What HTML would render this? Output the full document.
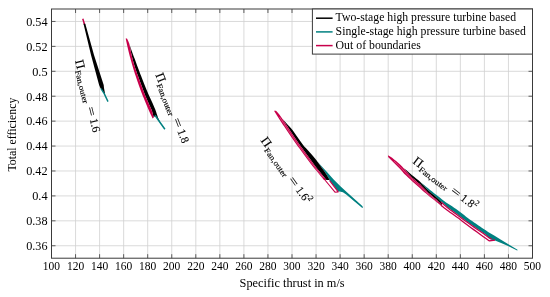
<!DOCTYPE html>
<html><head><meta charset="utf-8"><style>
html,body{margin:0;padding:0;background:#fff;}
svg{display:block;will-change:transform;filter:blur(0.25px);}
svg{font-family:"Liberation Serif",serif;font-size:11.5px;}
text{fill:#000;}
</style></head><body>
<svg width="550" height="297" viewBox="0 0 550 297">
<line x1="75.55" y1="9.0" x2="75.55" y2="258.2" stroke="#d0d0d0" stroke-width="0.8"/>
<line x1="99.60" y1="9.0" x2="99.60" y2="258.2" stroke="#d0d0d0" stroke-width="0.8"/>
<line x1="123.65" y1="9.0" x2="123.65" y2="258.2" stroke="#d0d0d0" stroke-width="0.8"/>
<line x1="147.70" y1="9.0" x2="147.70" y2="258.2" stroke="#d0d0d0" stroke-width="0.8"/>
<line x1="171.75" y1="9.0" x2="171.75" y2="258.2" stroke="#d0d0d0" stroke-width="0.8"/>
<line x1="195.80" y1="9.0" x2="195.80" y2="258.2" stroke="#d0d0d0" stroke-width="0.8"/>
<line x1="219.85" y1="9.0" x2="219.85" y2="258.2" stroke="#d0d0d0" stroke-width="0.8"/>
<line x1="243.90" y1="9.0" x2="243.90" y2="258.2" stroke="#d0d0d0" stroke-width="0.8"/>
<line x1="267.95" y1="9.0" x2="267.95" y2="258.2" stroke="#d0d0d0" stroke-width="0.8"/>
<line x1="292.00" y1="9.0" x2="292.00" y2="258.2" stroke="#d0d0d0" stroke-width="0.8"/>
<line x1="316.05" y1="9.0" x2="316.05" y2="258.2" stroke="#d0d0d0" stroke-width="0.8"/>
<line x1="340.10" y1="9.0" x2="340.10" y2="258.2" stroke="#d0d0d0" stroke-width="0.8"/>
<line x1="364.15" y1="9.0" x2="364.15" y2="258.2" stroke="#d0d0d0" stroke-width="0.8"/>
<line x1="388.20" y1="9.0" x2="388.20" y2="258.2" stroke="#d0d0d0" stroke-width="0.8"/>
<line x1="412.25" y1="9.0" x2="412.25" y2="258.2" stroke="#d0d0d0" stroke-width="0.8"/>
<line x1="436.30" y1="9.0" x2="436.30" y2="258.2" stroke="#d0d0d0" stroke-width="0.8"/>
<line x1="460.35" y1="9.0" x2="460.35" y2="258.2" stroke="#d0d0d0" stroke-width="0.8"/>
<line x1="484.40" y1="9.0" x2="484.40" y2="258.2" stroke="#d0d0d0" stroke-width="0.8"/>
<line x1="508.45" y1="9.0" x2="508.45" y2="258.2" stroke="#d0d0d0" stroke-width="0.8"/>
<line x1="51.5" y1="245.74" x2="532.5" y2="245.74" stroke="#d0d0d0" stroke-width="0.8"/>
<line x1="51.5" y1="220.82" x2="532.5" y2="220.82" stroke="#d0d0d0" stroke-width="0.8"/>
<line x1="51.5" y1="195.90" x2="532.5" y2="195.90" stroke="#d0d0d0" stroke-width="0.8"/>
<line x1="51.5" y1="170.98" x2="532.5" y2="170.98" stroke="#d0d0d0" stroke-width="0.8"/>
<line x1="51.5" y1="146.06" x2="532.5" y2="146.06" stroke="#d0d0d0" stroke-width="0.8"/>
<line x1="51.5" y1="121.14" x2="532.5" y2="121.14" stroke="#d0d0d0" stroke-width="0.8"/>
<line x1="51.5" y1="96.22" x2="532.5" y2="96.22" stroke="#d0d0d0" stroke-width="0.8"/>
<line x1="51.5" y1="71.30" x2="532.5" y2="71.30" stroke="#d0d0d0" stroke-width="0.8"/>
<line x1="51.5" y1="46.38" x2="532.5" y2="46.38" stroke="#d0d0d0" stroke-width="0.8"/>
<line x1="51.5" y1="21.46" x2="532.5" y2="21.46" stroke="#d0d0d0" stroke-width="0.8"/>
<polyline points="82.80,18.80 84.60,24.80" fill="none" stroke="#c8004b" stroke-width="1.5" stroke-linejoin="round" stroke-linecap="butt"/>
<polygon points="83.50,23.80 85.30,23.80 94.00,55.00 103.70,85.00 104.00,88.00 105.20,94.50 101.00,88.80 100.60,88.50 99.10,85.00 91.00,55.00" fill="#000"/>
<polyline points="101.00,88.60 104.20,93.60 108.00,101.60" fill="none" stroke="#008080" stroke-width="1.4" stroke-linejoin="round" stroke-linecap="butt"/>
<polygon points="126.99,38.60 127.98,40.58 128.85,42.55 129.36,44.53 129.89,46.50 130.28,48.48 130.63,50.45 131.02,52.43 131.47,54.40 131.93,56.38 132.41,58.35 132.90,60.33 133.45,62.30 134.03,64.28 134.66,66.25 135.30,68.22 135.96,70.20 136.63,72.18 137.32,74.15 138.02,76.12 138.73,78.10 139.45,80.08 140.19,82.05 140.94,84.03 141.68,86.00 142.40,87.97 143.13,89.95 143.88,91.93 144.64,93.90 145.41,95.88 146.23,97.85 147.08,99.83 147.95,101.80 148.82,103.78 149.72,105.75 150.63,107.72 151.55,109.70 152.22,111.68 152.72,113.65 153.23,115.62 153.75,117.60 155.20,115.80 160.60,123.20 157.95,117.60 157.32,115.62 156.69,113.65 156.08,111.68 155.37,109.70 154.51,107.72 153.66,105.75 152.81,103.78 151.89,101.80 150.98,99.83 150.07,97.85 149.19,95.88 148.33,93.90 147.48,91.93 146.64,89.95 145.82,87.97 145.01,86.00 144.21,84.03 143.42,82.05 142.64,80.08 141.87,78.10 141.12,76.12 140.38,74.15 139.65,72.18 138.91,70.20 138.14,68.22 137.38,66.25 136.64,64.28 135.93,62.30 135.23,60.33 134.48,58.35 133.73,56.38 133.00,54.40 132.28,52.43 131.56,50.45 130.84,48.48 130.16,46.50 129.51,44.53 128.88,42.55 127.98,40.58 126.99,38.60" fill="#000"/>
<polygon points="125.69,38.60 126.10,40.58 126.53,42.55 126.96,44.53 127.41,46.50 127.87,48.48 128.34,50.45 128.83,52.43 129.33,54.40 129.84,56.38 130.36,58.35 130.90,60.33 131.45,62.30 132.02,64.28 132.60,66.25 133.19,68.22 133.79,70.20 134.40,72.18 135.03,74.15 135.68,76.12 136.33,78.10 137.00,80.08 137.68,82.05 138.37,84.03 139.08,86.00 139.80,87.97 140.53,89.95 141.28,91.93 142.04,93.90 142.81,95.88 143.59,97.85 144.39,99.83 145.20,101.80 146.03,103.78 146.86,105.75 147.71,107.72 148.57,109.70 149.45,111.68 150.34,113.65 151.24,115.62 152.15,117.60 152.60,118.60 153.75,117.60 153.75,117.60 153.23,115.62 152.72,113.65 152.22,111.68 151.55,109.70 150.63,107.72 149.72,105.75 148.82,103.78 147.95,101.80 147.08,99.83 146.23,97.85 145.41,95.88 144.64,93.90 143.88,91.93 143.13,89.95 142.40,87.97 141.68,86.00 140.94,84.03 140.19,82.05 139.45,80.08 138.73,78.10 138.02,76.12 137.32,74.15 136.63,72.18 135.96,70.20 135.30,68.22 134.66,66.25 134.03,64.28 133.45,62.30 132.90,60.33 132.41,58.35 131.93,56.38 131.47,54.40 131.02,52.43 130.63,50.45 130.28,48.48 129.89,46.50 129.36,44.53 128.85,42.55 127.98,40.58 126.99,38.60" fill="#c8004b"/>
<polyline points="155.00,115.30 159.00,121.00 164.90,129.30" fill="none" stroke="#008080" stroke-width="1.5" stroke-linejoin="round" stroke-linecap="butt"/>
<polygon points="317.38,161.50 321.60,166.30 327.20,172.30 333.40,179.30 340.40,186.20 347.20,192.60 354.50,199.00 362.30,206.10 363.00,207.20 362.30,207.90 354.50,201.60 346.20,194.60 342.90,192.20 339.70,191.50 338.20,191.60 329.30,180.30 329.64,180.00 328.51,178.02 327.39,176.05 326.16,174.07 324.82,172.09 323.50,170.11 322.11,168.14 320.72,166.16 319.32,164.18 317.89,162.21 317.38,161.50" fill="#008080"/>
<polygon points="276.02,110.80 277.87,112.78 279.55,114.75 280.94,116.73 282.34,118.71 283.75,120.69 285.06,122.66 286.30,124.64 287.53,126.62 288.77,128.59 290.04,130.57 291.36,132.55 292.69,134.53 294.02,136.50 295.37,138.48 296.73,140.46 298.10,142.43 299.48,144.41 300.87,146.39 302.28,148.37 303.70,150.34 305.14,152.32 306.58,154.30 308.03,156.27 309.50,158.25 310.96,160.23 312.39,162.21 313.82,164.18 315.29,166.16 316.80,168.14 318.32,170.11 319.92,172.09 321.53,174.07 323.16,176.05 324.80,178.02 326.44,180.00 329.64,180.00 328.51,178.02 327.39,176.05 326.16,174.07 324.82,172.09 323.50,170.11 322.11,168.14 320.72,166.16 319.32,164.18 317.89,162.21 316.46,160.23 314.82,158.25 313.16,156.27 311.45,154.30 309.65,152.32 307.87,150.34 306.05,148.37 304.25,146.39 302.73,144.41 301.29,142.43 299.86,140.46 298.44,138.48 297.03,136.50 295.63,134.53 294.24,132.55 292.86,130.57 291.21,128.59 289.45,126.62 287.71,124.64 285.97,122.66 284.18,120.69 282.34,118.71 280.94,116.73 279.55,114.75 277.87,112.78 276.02,110.80" fill="#000"/>
<polygon points="274.02,110.80 275.25,112.78 276.50,114.75 277.76,116.73 279.02,118.71 280.30,120.69 281.59,122.66 282.89,124.64 284.20,126.62 285.52,128.59 286.85,130.57 288.19,132.55 289.54,134.53 290.90,136.50 292.28,138.48 293.66,140.46 295.05,142.43 296.46,144.41 297.87,146.39 299.30,148.37 300.73,150.34 302.18,152.32 303.64,154.30 305.11,156.27 306.58,158.25 308.07,160.23 309.57,162.21 311.08,164.18 312.63,166.16 314.22,168.14 315.81,170.11 317.42,172.09 319.03,174.07 320.66,176.05 322.30,178.02 323.94,180.00 326.44,180.00 324.80,178.02 323.16,176.05 321.53,174.07 319.92,172.09 318.32,170.11 316.80,168.14 315.29,166.16 313.82,164.18 312.39,162.21 310.96,160.23 309.50,158.25 308.03,156.27 306.58,154.30 305.14,152.32 303.70,150.34 302.28,148.37 300.87,146.39 299.48,144.41 298.10,142.43 296.73,140.46 295.37,138.48 294.02,136.50 292.69,134.53 291.36,132.55 290.04,130.57 288.77,128.59 287.53,126.62 286.30,124.64 285.06,122.66 283.75,120.69 282.34,118.71 280.94,116.73 279.55,114.75 277.87,112.78 276.02,110.80" fill="#c8004b"/>
<polyline points="279.53,117.00 281.32,119.65 283.09,122.30 284.80,124.96 286.51,127.61 288.24,130.26 290.02,132.91 291.82,135.57 293.64,138.22 295.48,140.87 297.34,143.52 299.22,146.17 301.12,148.83 303.04,151.48 304.99,154.13 306.95,156.78 308.93,159.43 310.89,162.09 312.87,164.74 314.92,167.39 317.01,170.04 319.16,172.70 321.33,175.35 323.53,178.00" fill="none" stroke="#e8a0b8" stroke-width="0.45" stroke-linejoin="round" stroke-linecap="butt"/>
<polyline points="324.53,179.50 335.00,192.20 338.20,191.90 329.60,180.60" fill="none" stroke="#c8004b" stroke-width="1.1" stroke-linejoin="round" stroke-linecap="butt"/>
<polygon points="418.10,180.11 420.10,181.75 422.10,183.41 424.10,185.06 426.10,186.71 428.10,188.34 430.10,189.97 432.10,191.59 434.10,193.17 436.10,194.74 438.10,196.30 440.10,197.85 442.10,199.39 444.10,200.93 446.10,202.44 448.10,203.76 450.10,205.06 452.10,206.36 454.10,207.65 456.10,208.99 458.10,210.39 460.10,211.97 462.10,213.54 464.10,215.10 466.10,216.65 468.10,218.18 470.10,219.71 472.10,221.11 474.10,222.49 476.10,223.87 478.10,225.24 480.10,226.60 482.10,227.94 484.10,229.28 486.10,230.61 488.10,231.92 494.60,235.70 501.00,239.80 508.00,244.00 517.10,249.50 517.70,250.10 517.10,250.60 508.10,246.10 501.10,242.90 495.00,240.50 490.50,239.60 488.10,236.63 486.10,235.12 484.10,233.59 482.10,232.22 480.10,230.85 478.10,229.47 476.10,228.07 474.10,226.69 472.10,225.31 470.10,223.91 468.10,222.38 466.10,220.94 464.10,219.49 462.10,218.03 460.10,216.56 458.10,214.94 456.10,213.49 454.10,212.10 452.10,210.76 450.10,209.23 448.10,207.67 446.10,206.10 444.10,204.34 442.10,202.51 440.10,200.67 438.10,198.81 436.10,196.95 434.10,195.32 432.10,193.69 430.10,192.03 428.10,190.35 426.10,188.23 424.10,186.09 422.10,183.93 420.10,181.77 418.10,180.11" fill="#008080"/>
<polygon points="404.10,168.42 406.10,170.12 408.10,171.81 410.10,173.48 412.10,175.15 414.10,176.81 416.10,178.46 418.10,180.11 420.10,181.77 422.10,183.93 424.10,186.09 426.10,188.23 428.10,190.35 430.10,192.03 432.10,193.69 434.10,195.32 436.10,196.95 438.10,198.81 440.10,200.67 442.00,202.42 442.00,205.22 440.10,203.34 438.10,201.35 436.10,199.36 434.10,197.70 432.10,196.05 430.10,194.35 428.10,192.65 426.10,190.60 424.10,188.53 422.10,186.45 420.10,184.37 418.10,182.68 416.10,181.02 414.10,179.34 412.10,177.65 410.10,175.45 408.10,173.22 406.10,170.98 404.10,168.72" fill="#000"/>
<polygon points="388.10,155.30 390.10,156.51 392.10,157.87 394.10,159.49 396.10,161.11 398.10,162.73 400.10,164.56 402.10,166.49 404.10,168.72 406.10,170.98 408.10,173.22 410.10,175.45 412.10,177.65 414.10,179.34 416.10,181.02 418.10,182.68 420.10,184.37 422.10,186.45 424.10,188.53 426.10,190.60 428.10,192.65 430.10,194.35 432.10,196.05 434.10,197.70 436.10,199.36 438.10,201.35 440.10,203.34 442.00,205.22 442.00,206.58 440.10,204.98 438.10,203.34 436.10,201.68 434.10,200.11 432.10,198.52 430.10,196.89 428.10,195.25 426.10,193.58 424.10,191.91 422.10,190.14 420.10,188.35 418.10,186.58 416.10,184.79 414.10,182.99 412.10,181.16 410.10,179.32 408.10,177.47 406.10,175.59 404.10,173.65 402.10,171.37 400.10,169.09 398.10,166.92 396.10,164.97 394.10,162.97 392.10,160.92 390.10,158.94 388.10,157.00" fill="#c8004b"/>
<polyline points="394.00,161.14 396.00,162.95 398.00,164.74 400.00,166.72 402.00,168.83 404.00,171.08 406.00,173.18 408.00,175.24 410.00,177.29 412.00,179.32 414.00,181.07 416.00,182.82 418.00,184.55 420.00,186.26 422.00,188.20 424.00,190.13 426.00,192.00 428.00,193.86 430.00,195.54 432.00,197.20 434.00,198.82 436.00,200.43 438.00,202.26" fill="none" stroke="#e8a0b8" stroke-width="0.45" stroke-linejoin="round" stroke-linecap="butt"/>
<polyline points="441.00,202.00 444.00,204.75 447.00,207.31 450.00,209.65 453.00,211.87 456.00,213.92 459.00,216.18 462.00,218.46 465.00,220.64 468.00,222.81 471.00,225.04 474.00,227.13 477.00,229.20 480.00,231.28 483.00,233.33 486.00,235.54 489.00,237.81 491.80,239.00" fill="none" stroke="#c8004b" stroke-width="1.25" stroke-linejoin="round" stroke-linecap="butt"/>
<polyline points="441.00,205.14 444.00,207.65 447.00,210.03 450.00,212.18 453.00,214.31 456.00,216.41 459.00,218.59 462.00,220.90 465.00,223.17 468.00,225.42 471.00,227.65 474.00,229.87 477.00,232.07 480.00,234.25 483.00,236.42 486.00,238.58 489.00,240.72 489.50,240.90 495.00,240.00" fill="none" stroke="#c8004b" stroke-width="1.3" stroke-linejoin="round" stroke-linecap="butt"/>
<line x1="75.55" y1="258.2" x2="75.55" y2="254.2" stroke="#3a3a3a" stroke-width="0.8"/>
<line x1="75.55" y1="9.0" x2="75.55" y2="13.0" stroke="#3a3a3a" stroke-width="0.8"/>
<line x1="99.60" y1="258.2" x2="99.60" y2="254.2" stroke="#3a3a3a" stroke-width="0.8"/>
<line x1="99.60" y1="9.0" x2="99.60" y2="13.0" stroke="#3a3a3a" stroke-width="0.8"/>
<line x1="123.65" y1="258.2" x2="123.65" y2="254.2" stroke="#3a3a3a" stroke-width="0.8"/>
<line x1="123.65" y1="9.0" x2="123.65" y2="13.0" stroke="#3a3a3a" stroke-width="0.8"/>
<line x1="147.70" y1="258.2" x2="147.70" y2="254.2" stroke="#3a3a3a" stroke-width="0.8"/>
<line x1="147.70" y1="9.0" x2="147.70" y2="13.0" stroke="#3a3a3a" stroke-width="0.8"/>
<line x1="171.75" y1="258.2" x2="171.75" y2="254.2" stroke="#3a3a3a" stroke-width="0.8"/>
<line x1="171.75" y1="9.0" x2="171.75" y2="13.0" stroke="#3a3a3a" stroke-width="0.8"/>
<line x1="195.80" y1="258.2" x2="195.80" y2="254.2" stroke="#3a3a3a" stroke-width="0.8"/>
<line x1="195.80" y1="9.0" x2="195.80" y2="13.0" stroke="#3a3a3a" stroke-width="0.8"/>
<line x1="219.85" y1="258.2" x2="219.85" y2="254.2" stroke="#3a3a3a" stroke-width="0.8"/>
<line x1="219.85" y1="9.0" x2="219.85" y2="13.0" stroke="#3a3a3a" stroke-width="0.8"/>
<line x1="243.90" y1="258.2" x2="243.90" y2="254.2" stroke="#3a3a3a" stroke-width="0.8"/>
<line x1="243.90" y1="9.0" x2="243.90" y2="13.0" stroke="#3a3a3a" stroke-width="0.8"/>
<line x1="267.95" y1="258.2" x2="267.95" y2="254.2" stroke="#3a3a3a" stroke-width="0.8"/>
<line x1="267.95" y1="9.0" x2="267.95" y2="13.0" stroke="#3a3a3a" stroke-width="0.8"/>
<line x1="292.00" y1="258.2" x2="292.00" y2="254.2" stroke="#3a3a3a" stroke-width="0.8"/>
<line x1="292.00" y1="9.0" x2="292.00" y2="13.0" stroke="#3a3a3a" stroke-width="0.8"/>
<line x1="316.05" y1="258.2" x2="316.05" y2="254.2" stroke="#3a3a3a" stroke-width="0.8"/>
<line x1="316.05" y1="9.0" x2="316.05" y2="13.0" stroke="#3a3a3a" stroke-width="0.8"/>
<line x1="340.10" y1="258.2" x2="340.10" y2="254.2" stroke="#3a3a3a" stroke-width="0.8"/>
<line x1="340.10" y1="9.0" x2="340.10" y2="13.0" stroke="#3a3a3a" stroke-width="0.8"/>
<line x1="364.15" y1="258.2" x2="364.15" y2="254.2" stroke="#3a3a3a" stroke-width="0.8"/>
<line x1="364.15" y1="9.0" x2="364.15" y2="13.0" stroke="#3a3a3a" stroke-width="0.8"/>
<line x1="388.20" y1="258.2" x2="388.20" y2="254.2" stroke="#3a3a3a" stroke-width="0.8"/>
<line x1="388.20" y1="9.0" x2="388.20" y2="13.0" stroke="#3a3a3a" stroke-width="0.8"/>
<line x1="412.25" y1="258.2" x2="412.25" y2="254.2" stroke="#3a3a3a" stroke-width="0.8"/>
<line x1="412.25" y1="9.0" x2="412.25" y2="13.0" stroke="#3a3a3a" stroke-width="0.8"/>
<line x1="436.30" y1="258.2" x2="436.30" y2="254.2" stroke="#3a3a3a" stroke-width="0.8"/>
<line x1="436.30" y1="9.0" x2="436.30" y2="13.0" stroke="#3a3a3a" stroke-width="0.8"/>
<line x1="460.35" y1="258.2" x2="460.35" y2="254.2" stroke="#3a3a3a" stroke-width="0.8"/>
<line x1="460.35" y1="9.0" x2="460.35" y2="13.0" stroke="#3a3a3a" stroke-width="0.8"/>
<line x1="484.40" y1="258.2" x2="484.40" y2="254.2" stroke="#3a3a3a" stroke-width="0.8"/>
<line x1="484.40" y1="9.0" x2="484.40" y2="13.0" stroke="#3a3a3a" stroke-width="0.8"/>
<line x1="508.45" y1="258.2" x2="508.45" y2="254.2" stroke="#3a3a3a" stroke-width="0.8"/>
<line x1="508.45" y1="9.0" x2="508.45" y2="13.0" stroke="#3a3a3a" stroke-width="0.8"/>
<line x1="51.5" y1="245.74" x2="55.5" y2="245.74" stroke="#3a3a3a" stroke-width="0.8"/>
<line x1="532.5" y1="245.74" x2="528.5" y2="245.74" stroke="#3a3a3a" stroke-width="0.8"/>
<line x1="51.5" y1="220.82" x2="55.5" y2="220.82" stroke="#3a3a3a" stroke-width="0.8"/>
<line x1="532.5" y1="220.82" x2="528.5" y2="220.82" stroke="#3a3a3a" stroke-width="0.8"/>
<line x1="51.5" y1="195.90" x2="55.5" y2="195.90" stroke="#3a3a3a" stroke-width="0.8"/>
<line x1="532.5" y1="195.90" x2="528.5" y2="195.90" stroke="#3a3a3a" stroke-width="0.8"/>
<line x1="51.5" y1="170.98" x2="55.5" y2="170.98" stroke="#3a3a3a" stroke-width="0.8"/>
<line x1="532.5" y1="170.98" x2="528.5" y2="170.98" stroke="#3a3a3a" stroke-width="0.8"/>
<line x1="51.5" y1="146.06" x2="55.5" y2="146.06" stroke="#3a3a3a" stroke-width="0.8"/>
<line x1="532.5" y1="146.06" x2="528.5" y2="146.06" stroke="#3a3a3a" stroke-width="0.8"/>
<line x1="51.5" y1="121.14" x2="55.5" y2="121.14" stroke="#3a3a3a" stroke-width="0.8"/>
<line x1="532.5" y1="121.14" x2="528.5" y2="121.14" stroke="#3a3a3a" stroke-width="0.8"/>
<line x1="51.5" y1="96.22" x2="55.5" y2="96.22" stroke="#3a3a3a" stroke-width="0.8"/>
<line x1="532.5" y1="96.22" x2="528.5" y2="96.22" stroke="#3a3a3a" stroke-width="0.8"/>
<line x1="51.5" y1="71.30" x2="55.5" y2="71.30" stroke="#3a3a3a" stroke-width="0.8"/>
<line x1="532.5" y1="71.30" x2="528.5" y2="71.30" stroke="#3a3a3a" stroke-width="0.8"/>
<line x1="51.5" y1="46.38" x2="55.5" y2="46.38" stroke="#3a3a3a" stroke-width="0.8"/>
<line x1="532.5" y1="46.38" x2="528.5" y2="46.38" stroke="#3a3a3a" stroke-width="0.8"/>
<line x1="51.5" y1="21.46" x2="55.5" y2="21.46" stroke="#3a3a3a" stroke-width="0.8"/>
<line x1="532.5" y1="21.46" x2="528.5" y2="21.46" stroke="#3a3a3a" stroke-width="0.8"/>
<rect x="51.5" y="9.0" width="481.0" height="249.2" fill="none" stroke="#3a3a3a" stroke-width="1"/>
<text x="51.50" y="270.2" text-anchor="middle" transform="rotate(0.02 51.50 267)">100</text>
<text x="75.55" y="270.2" text-anchor="middle" transform="rotate(0.02 75.55 267)">120</text>
<text x="99.60" y="270.2" text-anchor="middle" transform="rotate(0.02 99.60 267)">140</text>
<text x="123.65" y="270.2" text-anchor="middle" transform="rotate(0.02 123.65 267)">160</text>
<text x="147.70" y="270.2" text-anchor="middle" transform="rotate(0.02 147.70 267)">180</text>
<text x="171.75" y="270.2" text-anchor="middle" transform="rotate(0.02 171.75 267)">200</text>
<text x="195.80" y="270.2" text-anchor="middle" transform="rotate(0.02 195.80 267)">220</text>
<text x="219.85" y="270.2" text-anchor="middle" transform="rotate(0.02 219.85 267)">240</text>
<text x="243.90" y="270.2" text-anchor="middle" transform="rotate(0.02 243.90 267)">260</text>
<text x="267.95" y="270.2" text-anchor="middle" transform="rotate(0.02 267.95 267)">280</text>
<text x="292.00" y="270.2" text-anchor="middle" transform="rotate(0.02 292.00 267)">300</text>
<text x="316.05" y="270.2" text-anchor="middle" transform="rotate(0.02 316.05 267)">320</text>
<text x="340.10" y="270.2" text-anchor="middle" transform="rotate(0.02 340.10 267)">340</text>
<text x="364.15" y="270.2" text-anchor="middle" transform="rotate(0.02 364.15 267)">360</text>
<text x="388.20" y="270.2" text-anchor="middle" transform="rotate(0.02 388.20 267)">380</text>
<text x="412.25" y="270.2" text-anchor="middle" transform="rotate(0.02 412.25 267)">400</text>
<text x="436.30" y="270.2" text-anchor="middle" transform="rotate(0.02 436.30 267)">420</text>
<text x="460.35" y="270.2" text-anchor="middle" transform="rotate(0.02 460.35 267)">440</text>
<text x="484.40" y="270.2" text-anchor="middle" transform="rotate(0.02 484.40 267)">460</text>
<text x="508.45" y="270.2" text-anchor="middle" transform="rotate(0.02 508.45 267)">480</text>
<text x="532.50" y="270.2" text-anchor="middle" transform="rotate(0.02 532.50 267)">500</text>
<text x="47.6" y="250.04" transform="rotate(0.02 40 245.74)" text-anchor="end" textLength="21.4" lengthAdjust="spacingAndGlyphs">0.36</text>
<text x="47.6" y="225.12" transform="rotate(0.02 40 220.82)" text-anchor="end" textLength="21.4" lengthAdjust="spacingAndGlyphs">0.38</text>
<text x="47.6" y="200.20" transform="rotate(0.02 40 195.90)" text-anchor="end" textLength="15.4" lengthAdjust="spacingAndGlyphs">0.4</text>
<text x="47.6" y="175.28" transform="rotate(0.02 40 170.98)" text-anchor="end" textLength="21.4" lengthAdjust="spacingAndGlyphs">0.42</text>
<text x="47.6" y="150.36" transform="rotate(0.02 40 146.06)" text-anchor="end" textLength="21.4" lengthAdjust="spacingAndGlyphs">0.44</text>
<text x="47.6" y="125.44" transform="rotate(0.02 40 121.14)" text-anchor="end" textLength="21.4" lengthAdjust="spacingAndGlyphs">0.46</text>
<text x="47.6" y="100.52" transform="rotate(0.02 40 96.22)" text-anchor="end" textLength="21.4" lengthAdjust="spacingAndGlyphs">0.48</text>
<text x="47.6" y="75.60" transform="rotate(0.02 40 71.30)" text-anchor="end" textLength="15.4" lengthAdjust="spacingAndGlyphs">0.5</text>
<text x="47.6" y="50.68" transform="rotate(0.02 40 46.38)" text-anchor="end" textLength="21.4" lengthAdjust="spacingAndGlyphs">0.52</text>
<text x="47.6" y="25.76" transform="rotate(0.02 40 21.46)" text-anchor="end" textLength="21.4" lengthAdjust="spacingAndGlyphs">0.54</text>
<text x="239.6" y="287.3" transform="rotate(0.02 290 284)" textLength="105" lengthAdjust="spacingAndGlyphs">Specific thrust in m/s</text>
<text transform="translate(16,171.6) rotate(-90)" textLength="74" lengthAdjust="spacingAndGlyphs">Total efficiency</text>
<rect x="312.4" y="9.0" width="220.10000000000002" height="45.1" fill="#fff" stroke="#3a3a3a" stroke-width="1"/>
<line x1="316" y1="18.2" x2="332.6" y2="18.2" stroke="#000" stroke-width="1.5"/>
<text x="335.6" y="21.4" transform="rotate(0.02 420 21.4)" textLength="180.5" lengthAdjust="spacingAndGlyphs">Two-stage high pressure turbine based</text>
<line x1="316" y1="31.9" x2="332.6" y2="31.9" stroke="#008080" stroke-width="1.5"/>
<text x="335.6" y="35.0" transform="rotate(0.02 420 35.0)" textLength="190.2" lengthAdjust="spacingAndGlyphs">Single-stage high pressure turbine based</text>
<line x1="316" y1="45.6" x2="332.6" y2="45.6" stroke="#c8004b" stroke-width="1.5"/>
<text x="335.6" y="48.6" transform="rotate(0.02 420 48.6)" textLength="85.2" lengthAdjust="spacingAndGlyphs">Out of boundaries</text>
<g transform="translate(75.07,60.64) rotate(76.0)" stroke="#000" stroke-width="0.14"><text x="0" y="0" font-size="12.5" textLength="9.3" lengthAdjust="spacingAndGlyphs">&#928;</text><text x="10.0" y="2.6" font-size="8.0" textLength="34.0" lengthAdjust="spacingAndGlyphs">Fan,outer</text><text x="48.2" y="0" textLength="9.6" lengthAdjust="spacingAndGlyphs">=</text><text x="60.6" y="0" textLength="13.9" lengthAdjust="spacingAndGlyphs">1.6</text></g>
<g transform="translate(155.16,74.67) rotate(68.6)" stroke="#000" stroke-width="0.14"><text x="0" y="0" font-size="12.5" textLength="9.3" lengthAdjust="spacingAndGlyphs">&#928;</text><text x="10.0" y="2.6" font-size="8.0" textLength="34.0" lengthAdjust="spacingAndGlyphs">Fan,outer</text><text x="48.2" y="0" textLength="9.6" lengthAdjust="spacingAndGlyphs">=</text><text x="60.6" y="0" textLength="13.9" lengthAdjust="spacingAndGlyphs">1.8</text></g>
<g transform="translate(260.13,140.57) rotate(54.5)" stroke="#000" stroke-width="0.14"><text x="0" y="0" font-size="12.5" textLength="9.3" lengthAdjust="spacingAndGlyphs">&#928;</text><text x="10.0" y="2.6" font-size="8.0" textLength="34.0" lengthAdjust="spacingAndGlyphs">Fan,outer</text><text x="48.2" y="0" textLength="9.6" lengthAdjust="spacingAndGlyphs">=</text><text x="60.6" y="0" textLength="13.9" lengthAdjust="spacingAndGlyphs">1.6</text><text x="74.6" y="-5.1" font-size="8.0">2</text></g>
<g transform="translate(411.93,162.4) rotate(37.8)" stroke="#000" stroke-width="0.14"><text x="0" y="0" font-size="12.5" textLength="9.3" lengthAdjust="spacingAndGlyphs">&#928;</text><text x="10.0" y="2.6" font-size="8.0" textLength="34.0" lengthAdjust="spacingAndGlyphs">Fan,outer</text><text x="48.2" y="0" textLength="9.6" lengthAdjust="spacingAndGlyphs">=</text><text x="60.6" y="0" textLength="13.9" lengthAdjust="spacingAndGlyphs">1.8</text><text x="74.6" y="-5.1" font-size="8.0">2</text></g>
</svg>
</body></html>
